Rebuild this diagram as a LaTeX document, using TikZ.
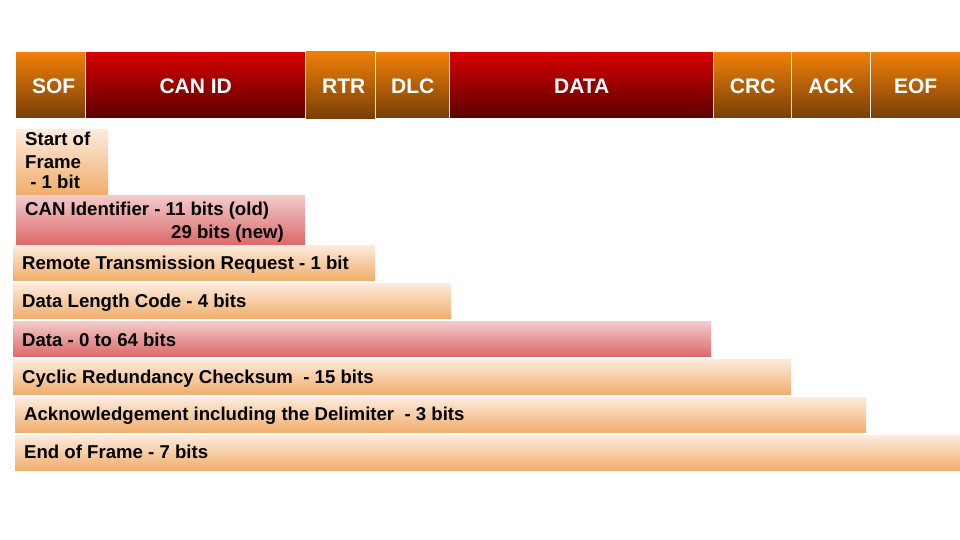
\documentclass[tikz,border=0pt]{standalone}
\usepackage{fontspec}
\setmainfont{Liberation Sans}
\definecolor{orTop}{HTML}{EF8008}
\definecolor{orBot}{HTML}{7B3F08}
\definecolor{rdTop}{HTML}{D60000}
\definecolor{rdBot}{HTML}{5C0000}
\definecolor{ltTop}{HTML}{FDEBDD}
\definecolor{ltBot}{HTML}{F0AE6C}
\definecolor{pkTop}{HTML}{F3CBCB}
\definecolor{pkBot}{HTML}{DB6A6A}
\tikzset{
  fbox/.style={rectangle, inner sep=0pt, anchor=north west, draw=none},
  orbox/.style={fbox, top color=orTop, bottom color=orBot},
  rdbox/.style={fbox, top color=rdTop, bottom color=rdBot},
  ltbox/.style={fbox, top color=ltTop, bottom color=ltBot},
  pkbox/.style={fbox, top color=pkTop, bottom color=pkBot},
  head/.style={text=white, font=\fontsize{21}{25}\selectfont\bfseries, inner sep=0pt, yshift=-1.5pt},
  desc/.style={text=black, font=\fontsize{18.6}{22}\selectfont\bfseries, inner sep=0pt, anchor=base west},
}
\begin{document}
\begin{tikzpicture}[x=1pt,y=-1pt]
\useasboundingbox[fill=white] (0,0) rectangle (960,540);
% top bar
\node[orbox, minimum width=69pt, minimum height=65pt] (sof) at (16,52) {};
\node[rdbox, minimum width=219pt, minimum height=65pt] (canid) at (86,52) {};
\node[orbox, minimum width=69pt, minimum height=67pt] (rtr) at (306,51) {};
\node[orbox, minimum width=73pt, minimum height=65pt] (dlc) at (376,52) {};
\node[rdbox, minimum width=263pt, minimum height=65pt] (data) at (450,52) {};
\node[orbox, minimum width=77pt, minimum height=65pt] (crc) at (714,52) {};
\node[orbox, minimum width=78pt, minimum height=65pt] (ack) at (792,52) {};
\node[orbox, minimum width=89pt, minimum height=65pt] (eof) at (871,52) {};
\node[head, xshift=3pt] (sofT) at (sof.center) {SOF};
\node[head] (canidT) at (canid.center) {CAN ID};
\node[head, xshift=3pt] (rtrT) at (rtr.center) {RTR};
\node[head] (dlcT) at (dlc.center) {DLC};
\node[head] (dataT) at (data.center) {DATA};
\node[head] (crcT) at (crc.center) {CRC};
\node[head] (ackT) at (ack.center) {ACK};
\node[head] (eofT) at (eof.center) {EOF};
% description boxes
\node[ltbox, minimum width=92pt, minimum height=65pt] (dsof) at (16,129) {};
\node[pkbox, minimum width=289pt, minimum height=49pt] (dcan) at (16,195) {};
\node[ltbox, minimum width=362pt, minimum height=35pt] (drtr) at (13,245) {};
\node[ltbox, minimum width=438pt, minimum height=35pt] (ddlc) at (13,283) {};
\node[pkbox, minimum width=698pt, minimum height=35pt] (ddata) at (13,321) {};
\node[ltbox, minimum width=778pt, minimum height=35pt] (dcrc) at (13,359) {};
\node[ltbox, minimum width=851pt, minimum height=35pt] (dack) at (15,397) {};
\node[ltbox, minimum width=945pt, minimum height=35pt] (deof) at (15,435) {};
% description texts
\node[desc] (tsof1) at (25,146) {Start of};
\node[desc] (tsof2) at (25,168) {Frame};
\node[desc] (tsof3) at (25,189) {\ - 1 bit};
\node[desc] (tcan1) at (25,215) {CAN Identifier - 11 bits (old)};
\node[desc] (tcan2) at (171,238) {29 bits (new)};
\node[desc] (trtr) at (22,269) {Remote Transmission Request - 1 bit};
\node[desc] (tdlc) at (22,307) {Data Length Code - 4 bits};
\node[desc] (tdata) at (22,346) {Data - 0 to 64 bits};
\node[desc] (tcrc) at (22,383) {Cyclic Redundancy Checksum \ - 15 bits};
\node[desc] (tack) at (24,420) {Acknowledgement including the Delimiter \ - 3 bits};
\node[desc] (teof) at (24,458) {End of Frame - 7 bits};
\end{tikzpicture}
\end{document}
